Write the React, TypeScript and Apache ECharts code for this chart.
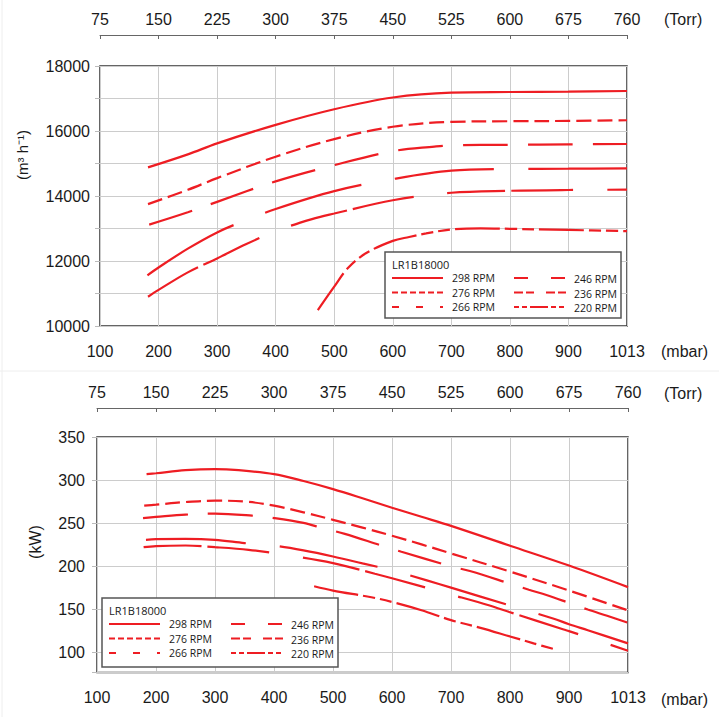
import { useEffect, useRef } from 'react';
import * as echarts from 'echarts';

// --- Axis labels ---
const PRESSURE_LABELS = ['100', '200', '300', '400', '500', '600', '700', '800', '900', '1013'];
const TORR_LABELS = ['75', '150', '225', '300', '375', '450', '525', '600', '675', '760'];
const RPM_LABELS = ['298 RPM', '276 RPM', '266 RPM', '246 RPM', '236 RPM', '220 RPM'];
const MODEL = 'LR1B18000';

// --- Flow rate (m³/h) vs inlet pressure (mbar) ---
const FLOW_298 = [[182, 14880], [250, 15280], [300, 15620], [400, 16190], [500, 16670], [600, 17030], [700, 17180], [800, 17200], [900, 17210], [1013, 17230]];
const FLOW_276 = [[182, 13750], [250, 14190], [300, 14550], [400, 15210], [500, 15750], [600, 16130], [700, 16280], [800, 16300], [900, 16310], [1013, 16330]];
const FLOW_266 = [[184, 13120], [250, 13500], [300, 13820], [400, 14450], [500, 14950], [600, 15380], [671, 15520], [700, 15560], [800, 15575], [900, 15590], [1013, 15600]];
const FLOW_246 = [[181, 11560], [200, 11800], [250, 12380], [300, 12880], [340, 13190], [400, 13600], [500, 14150], [600, 14520], [700, 14780], [800, 14830], [900, 14840], [1013, 14850]];
const FLOW_236 = [[182, 10900], [200, 11110], [250, 11650], [300, 12080], [350, 12520], [400, 12920], [462, 13290], [500, 13460], [600, 13870], [700, 14100], [800, 14160], [900, 14185], [1013, 14195]];
const FLOW_220 = [[472, 10490], [500, 11210], [523, 11775], [554, 12237], [600, 12620], [628, 12740], [657, 12850], [700, 12970], [750, 13005], [800, 12990], [900, 12955], [1013, 12920]];

// --- Shaft power (kW) vs inlet pressure (mbar) ---
const POWER_298 = [[184, 307], [200, 308], [250, 311.5], [300, 312.7], [340, 311.5], [400, 307], [450, 299], [500, 289.6], [550, 279], [600, 268], [650, 257.5], [700, 247], [800, 224], [900, 201], [1013, 176]];
const POWER_276 = [[180, 270.4], [200, 271.5], [250, 274.6], [300, 276.2], [353, 275], [400, 270.4], [450, 262.7], [500, 254], [550, 245], [600, 235.5], [650, 225.5], [700, 215], [800, 194], [900, 172], [1013, 149]];
const POWER_266 = [[178, 256], [200, 257.3], [250, 260], [300, 261.2], [363, 258.8], [400, 256], [450, 250.4], [483, 244.2], [520, 237.7], [582, 224.2], [616, 217], [700, 200], [732, 194.6], [800, 180], [832, 173], [863, 166.5], [900, 157.7], [936, 150], [973, 142.7], [1013, 134.6]];
const POWER_246 = [[183, 230.8], [200, 231.5], [250, 231.9], [300, 230.8], [350, 227], [400, 224], [450, 218.5], [500, 211.5], [550, 203.5], [600, 195.4], [659, 183.8], [700, 175.4], [800, 154.6], [873, 139.6], [900, 133], [936, 126], [1013, 110.8]];
const POWER_236 = [[179, 222.3], [200, 223.6], [250, 224.2], [300, 222.3], [357, 219.2], [415, 213.8], [500, 203.8], [571, 191.5], [600, 186.2], [700, 167.3], [764, 155], [800, 146.9], [891, 126.9], [900, 125], [1013, 102.3]];
const POWER_220 = [[468, 177], [500, 172], [565, 164.2], [600, 158.8], [650, 149.2], [700, 137.7], [750, 128.8], [800, 118.8], [840, 110.8], [874, 104.2]];

const FLOW_CURVES = [FLOW_298, FLOW_276, FLOW_266, FLOW_246, FLOW_236, FLOW_220];
const POWER_CURVES = [POWER_298, POWER_276, POWER_266, POWER_246, POWER_236, POWER_220];

/* ── Styles ── */
const RED = '#ee1d23';
const FONT = '"Liberation Sans", Arial, sans-serif';
const LEGEND_FONT = '"Open Sans", "Noto Sans", sans-serif';
const TEXT = '#1a1a1a';
const GRID_LINE = '#cccccc';
const PLOT_DASH: any[] = ['solid', [15, 6], [45, 20], [100, 34], [58, 6, 62, 34], [45, 5, 12, 5, 12, 5]];
const LEGEND_DASH: (number[] | null)[] = [null, [6, 3], [7, 17], [14, 23], [9, 3, 8, 12], [5, 3, 5, 3, 18, 3, 5, 3]];

// the last interval (900 -> 1013) is drawn as wide as the others
const toAxis = (p: number) => (p <= 900 ? p : 900 + ((p - 900) * 100) / 113);

const buildSeries = (curves: number[][][], axisIndex: number) =>
  curves.map((curve, i) => ({
    type: 'line' as const,
    name: RPM_LABELS[i],
    xAxisIndex: axisIndex * 2,
    yAxisIndex: axisIndex,
    data: curve.map(([p, v]) => [toAxis(p), v]),
    smooth: 0.35,
    showSymbol: false,
    silent: true,
    lineStyle: { color: RED, width: 2.2, type: PLOT_DASH[i], cap: 'butt' },
  }));

const pressureAxis = (gridIndex: number) => ({
  gridIndex,
  type: 'value' as const,
  position: 'bottom' as const,
  min: 100,
  max: 1000,
  interval: 100,
  axisLine: { show: false },
  axisTick: { show: false },
  splitLine: { show: true, lineStyle: { color: GRID_LINE, width: 1 } },
  axisLabel: {
    formatter: (v: number) => PRESSURE_LABELS[Math.round((v - 100) / 100)],
    fontSize: 16,
    fontFamily: FONT,
    color: TEXT,
    margin: 17,
  },
});

const torrAxis = (gridIndex: number, offset: number) => ({
  gridIndex,
  type: 'value' as const,
  position: 'top' as const,
  offset,
  min: 100,
  max: 1000,
  interval: 100,
  axisLine: { show: true, lineStyle: { color: '#666', width: 1 } },
  axisTick: { show: true, inside: true, length: 4, lineStyle: { color: '#666' } },
  splitLine: { show: false },
  axisLabel: {
    formatter: (v: number) => TORR_LABELS[Math.round((v - 100) / 100)],
    fontSize: 16,
    fontFamily: FONT,
    color: TEXT,
    margin: 8,
  },
});

const unitText = (text: string, x: number, y: number, rotate = false, size = 16) => ({
  type: 'text',
  x,
  y,
  z: 100,
  rotation: rotate ? Math.PI / 2 : 0,
  style: { text, font: `${size}px ${FONT}`, fill: TEXT, align: rotate ? 'center' : 'left', verticalAlign: 'middle' },
});

// Boxed legend with the model name on top, two columns of dash samples
const legendBox = (x: number, y: number, height: number) => {
  const rows = [26, 40.5, 55];
  const children: any[] = [
    { type: 'rect', z: 100, shape: { x: 0, y: 0, width: 236, height }, style: { fill: '#fff', stroke: '#555', lineWidth: 1.5 } },
    { type: 'text', z: 101, x: 7, y: 12, style: { text: MODEL, font: `11px ${LEGEND_FONT}`, fill: TEXT, align: 'left', verticalAlign: 'middle' } },
  ];
  RPM_LABELS.forEach((label, i) => {
    const col = i < 3 ? 0 : 1;
    const ry = rows[i % 3];
    const x1 = col === 0 ? 7 : 129;
    const x2 = col === 0 ? 58 : 181;
    const tx = col === 0 ? 67 : 189;
    children.push({
      type: 'line',
      z: 101,
      shape: { x1, y1: ry, x2, y2: ry },
      style: { stroke: RED, lineWidth: 2, lineDash: LEGEND_DASH[i] ?? undefined, lineCap: 'butt' },
    });
    children.push({
      type: 'text',
      z: 101,
      x: tx,
      y: ry + (col === 1 ? 1 : 0),
      style: { text: label, font: `10.5px ${LEGEND_FONT}`, fill: TEXT, align: 'left', verticalAlign: 'middle' },
    });
  });
  return { type: 'group', x, y, z: 100, children };
};

export default function App() {
  const chartRef = useRef<HTMLDivElement>(null);

  useEffect(() => {
    if (!chartRef.current) return;
    document.body.style.margin = '0';
    const chart = echarts.init(chartRef.current, null, { renderer: 'svg' });

    chart.setOption({
      animation: false,
      backgroundColor: '#fff',
      grid: [
        { left: 100, top: 66, width: 527, height: 260, show: true, borderColor: '#333', borderWidth: 1.5, backgroundColor: '#fff' },
        { left: 97, top: 437, width: 531, height: 235.5, show: true, borderColor: '#333', borderWidth: 1.5, backgroundColor: '#fff' },
      ],
      xAxis: [pressureAxis(0), torrAxis(0, 31), pressureAxis(1), torrAxis(1, 29)],
      yAxis: [
        {
          gridIndex: 0,
          type: 'value',
          min: 10000,
          max: 18000,
          interval: 1000,
          axisLine: { show: false },
          axisTick: { show: true, length: 5, lineStyle: { color: '#bbb' } },
          splitLine: { show: true, lineStyle: { color: GRID_LINE, width: 1 } },
          axisLabel: {
            formatter: (v: number) => (v % 2000 === 0 ? String(v) : ''),
            fontSize: 16,
            fontFamily: FONT,
            color: TEXT,
            margin: 10,
          },
        },
        {
          gridIndex: 1,
          type: 'value',
          min: 77,
          max: 350,
          axisLine: { show: false },
          axisTick: { show: true, length: 5, lineStyle: { color: '#bbb' } },
          splitLine: { show: true, lineStyle: { color: GRID_LINE, width: 1 } },
          axisLabel: {
            formatter: (v: number) => (v % 50 === 0 ? String(v) : ''),
            fontSize: 16,
            fontFamily: FONT,
            color: TEXT,
            margin: 12,
          },
        },
      ],
      series: [...buildSeries(FLOW_CURVES, 0), ...buildSeries(POWER_CURVES, 1)],
      graphic: [
        { type: 'line', shape: { x1: 2, y1: 0, x2: 2, y2: 717 }, style: { stroke: '#eeeeee', lineWidth: 1 } },
        { type: 'line', shape: { x1: 0, y1: 371, x2: 719, y2: 371 }, style: { stroke: '#eeeeee', lineWidth: 1 } },
        unitText('(Torr)', 664, 19),
        unitText('(mbar)', 661, 351),
        unitText('(Torr)', 664, 393),
        unitText('(mbar)', 661, 699),
        unitText('(m³ h⁻¹)', 22, 155, true, 15),
        unitText('(kW)', 35, 542, true, 16),
        legendBox(385, 252, 66),
        legendBox(102, 598, 69),
      ],
    });

    return () => {
      chart.dispose();
    };
  }, []);

  return <div ref={chartRef} style={{ width: 719, height: 717 }} />;
}
